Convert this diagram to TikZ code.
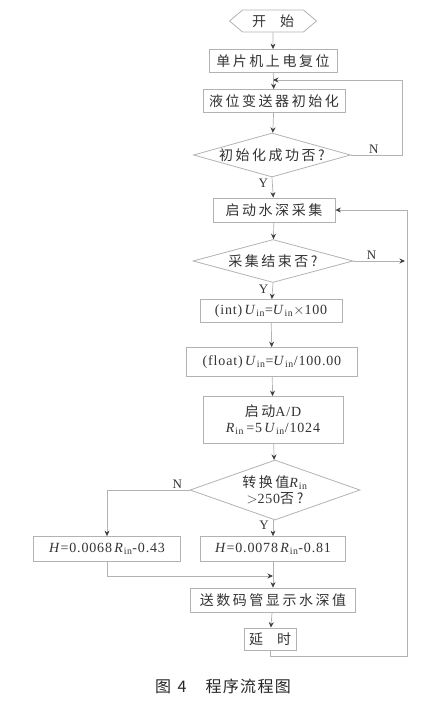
\documentclass[tikz,border=0pt]{standalone}
\usepackage{fontspec}
\setmainfont[LetterSpace=6]{Liberation Serif}
\newfontfamily\cjk[LetterSpace=18]{Noto Sans CJK SC}
\newfontfamily\capfont[LetterSpace=8]{Noto Sans CJK SC}
\usetikzlibrary{arrows.meta,shapes.geometric,shapes.symbols}

\newcommand{\Uin}{\textit{U}\textsubscript{in}}
\newcommand{\Rin}{\textit{R}\textsubscript{in}}

\begin{document}
\begin{tikzpicture}[x=1pt, y=-1pt, >={Stealth[length=5.5pt,width=5pt,black!75]},
    box/.style={draw=gray!60, line width=0.8pt, text=black!80, inner sep=2pt,
        font=\fontsize{14}{16}\selectfont, minimum height=23pt},
    decision/.style={diamond, draw=gray!60, line width=0.8pt, text=black!80,
        inner sep=0pt, align=center, font=\fontsize{14}{16}\selectfont},
    flow/.style={->, draw=gray!60, line width=0.7pt},
    lbl/.style={text=black!80, font=\fontsize{13}{15}\selectfont, inner sep=1pt}]
    \useasboundingbox (0,0) rectangle (439,707);

    % main column
    \node[box, signal, signal to=west and east, signal pointer angle=80,
        minimum width=87pt, minimum height=22pt] (start) at (273,21) {\cjk 开\quad 始};
    \node[box, minimum width=128pt] (reset) at (273,61) {\cjk 单片机上电复位};
    \node[box, minimum width=142pt] (init) at (274,101) {\cjk 液位变送器初始化};
    \node[decision, aspect=3.6, minimum width=157pt, minimum height=44pt] (initok) at (272,155) {\cjk 初始化成功否?};
    \node[box, minimum width=122pt, minimum height=24pt] (sample) at (274,210) {\cjk 启动水深采集};
    \node[decision, aspect=3.7, minimum width=160pt, minimum height=43pt] (sampled) at (273,261) {\cjk 采集结束否?};
    \node[box, minimum width=142pt] (toint) at (271,311) {(int)\,\Uin=\Uin$\times$100};
    \node[box, minimum width=171pt, minimum height=29pt] (tofloat) at (272,362) {(float)\,\Uin=\Uin/100.00};
    \node[box, minimum width=140pt, minimum height=47pt, align=center] (adc) at (273,420)
        {{\cjk 启动}A/D\\\Rin\,=5\,\Uin/1024};
    \node[decision, aspect=2.8, minimum width=170pt, minimum height=60pt] (cmp) at (275,490)
        {{\cjk 转换值}\Rin\\$>$250{\cjk 否?}};
    \node[box, minimum width=147pt, minimum height=25pt] (hlow) at (107,549) {\textit{H}=0.0068\,\Rin-0.43};
    \node[box, minimum width=145pt, minimum height=25pt] (hhigh) at (273,549) {\textit{H}=0.0078\,\Rin-0.81};
    \node[box, minimum width=165pt, minimum height=24pt] (show) at (273,600) {\cjk 送数码管显示水深值};
    \node[box, minimum width=52pt, minimum height=22pt] (wait) at (270,639) {\cjk 延\quad 时};

    % joints of the loops
    \coordinate (back1) at (273,80);
    \coordinate (merge) at (273,576);
    \coordinate (rtop) at (407,210);

    % connectors
    \draw[flow] (start) -- (reset);
    \draw[flow] (reset) -- (init);
    \draw[flow] (init) -- (initok);
    \draw[flow] (initok.east) -- node[lbl, above, pos=0.45] {N} (402,155) |- (back1);
    \draw[flow] (initok.south) -- node[lbl, left=3pt, pos=0.3] {Y} (sample);
    \draw[flow] (sample) -- (sampled);
    \draw[flow] (sampled.east) -- node[lbl, above, pos=0.35] {N} (405,261);
    \draw[flow] (sampled.south) -- node[lbl, left=3pt, pos=0.4] {Y} (toint);
    \draw[flow] (toint) -- (tofloat);
    \draw[flow] (tofloat) -- (adc);
    \draw[flow] (adc) -- (cmp);
    \draw[flow] (cmp.west) -- node[lbl, above, pos=0.15] {N} (cmp.west -| hlow) -- (hlow.north);
    \draw[flow] (cmp.south -| hhigh) -- node[lbl, left=3pt, pos=0.3] {Y} (hhigh);
    \draw[flow] (hlow.south) |- (merge);
    \draw[flow] (hhigh) -- (show);
    \draw[flow] (show) -- (wait);
    \draw[flow] (wait.south) -- ++(0,6) -| (rtop) -- (sample.east);

    % caption
    \node[text=black!85, font=\capfont\fontsize{16}{18}\selectfont] (caption) at (223,686) {图\hspace{0.4em}4\hspace{1.2em}程序流程图};
\end{tikzpicture}
\end{document}
